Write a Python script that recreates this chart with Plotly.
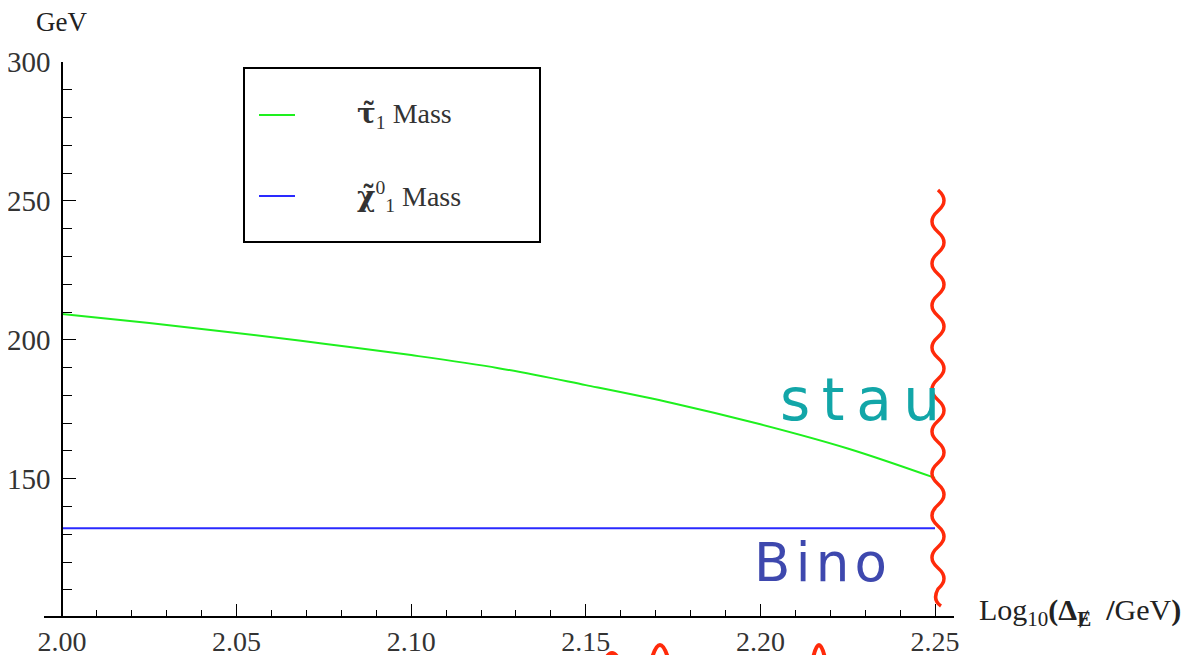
import plotly.graph_objects as go

# ---- data ----
x_stau = [2.000, 2.025, 2.050, 2.075, 2.100, 2.125, 2.150, 2.175, 2.200, 2.225, 2.250]
m_stau = [209.3, 206.1, 202.5, 198.6, 194.5, 189.8, 183.7, 177.2, 169.6, 160.9, 150.3]
x_bino = [2.000, 2.250]
m_bino = [132.2, 132.2]
x_ticks = [2.00, 2.05, 2.10, 2.15, 2.20, 2.25]
x_tick_labels = ["2.00", "2.05", "2.10", "2.15", "2.20", "2.25"]
y_ticks = [150, 200, 250, 300]
y_tick_labels = ["150", "200", "250", "300"]

# page body margin of the browser shifts the figure; compensate
OX, OY = 8, 8
W, H = 1190 - OX, 655 - OY
L, R, T, B = 44, 954, 62, 616  # plot area in screen pixels


def px(x):
    return (x - L) / (R - L)


def py(y):
    return (B - y) / (B - T)


SERIF = "Liberation Serif, Times New Roman, serif"
GREEN = "#1EF01E"
BLUE = "#2A2AFF"

fig = go.Figure()
fig.add_trace(go.Scatter(x=x_stau, y=m_stau, mode="lines", line=dict(color=GREEN, width=2, shape="spline"),
                         name="stau", showlegend=False))
fig.add_trace(go.Scatter(x=x_bino, y=m_bino, mode="lines", line=dict(color=BLUE, width=2),
                         name="bino", showlegend=False))

xr = [2.0 - 18 / 3492, 2.0 + 892 / 3492]
fig.update_xaxes(range=xr, showline=True, linecolor="black", linewidth=1.6, ticks="inside", ticklen=12,
                 tickwidth=1.4, tickcolor="black", tickvals=x_ticks, ticktext=x_tick_labels,
                 showgrid=False, zeroline=False, ticklabelstandoff=0, automargin=False,
                 tickfont=dict(family=SERIF, size=28, color="#333"),
                 minor=dict(dtick=0.01, tick0=2.0, ticks="inside", ticklen=6, tickwidth=1.2, tickcolor="black",
                            showgrid=False))
fig.update_yaxes(range=[100.6, 300.0], showline=True, linecolor="black", linewidth=1.6, ticks="inside",
                 ticklen=13, tickwidth=1.4, tickcolor="black", tickvals=y_ticks, ticktext=y_tick_labels,
                 showgrid=False, zeroline=False, anchor="free", position=px(62), ticklabelstandoff=5,
                 automargin=False,
                 tickfont=dict(family=SERIF, size=29, color="#333"),
                 minor=dict(dtick=10, tick0=100, ticks="inside", ticklen=9, tickwidth=1.2, tickcolor="black",
                            showgrid=False))

shapes = []
annotations = []

# legend box
shapes.append(dict(type="rect", xref="paper", yref="paper", x0=px(244), x1=px(540), y0=py(68), y1=py(242),
                   line=dict(color="black", width=2), fillcolor="white", layer="above"))
shapes.append(dict(type="line", xref="paper", yref="paper", x0=px(259), x1=px(295), y0=py(115), y1=py(115),
                   line=dict(color=GREEN, width=2)))
shapes.append(dict(type="line", xref="paper", yref="paper", x0=px(259), x1=px(295), y0=py(196), y1=py(196),
                   line=dict(color=BLUE, width=2)))
DJ = "font-family:'DejaVu Serif'"
annotations.append(dict(xref="paper", yref="paper", x=px(355), y=py(115), xanchor="left", yanchor="middle",
                        text="<span style=\"%s\"><b>τ̃</b></span><sub>1</sub> Mass" % DJ, showarrow=False,
                        font=dict(family=SERIF, size=28, color="#333")))
annotations.append(dict(xref="paper", yref="paper", x=px(355), y=py(196), xanchor="left", yanchor="middle",
                        text="<span style=\"%s\"><b>χ̃</b></span><sup>0</sup><sub>1</sub> Mass" % DJ,
                        showarrow=False, font=dict(family=SERIF, size=28, color="#333")))

# axis labels
annotations.append(dict(xref="paper", yref="paper", x=px(34), y=py(22), xanchor="left", yanchor="middle",
                        text="GeV", showarrow=False, font=dict(family=SERIF, size=27, color="#222")))
annotations.append(dict(xref="paper", yref="paper", x=px(977), y=py(612), xanchor="left", yanchor="middle",
                        text="Log<sub>10</sub><b>(Δ</b><sub><b>Ɇ</b></sub>  <b>/</b>GeV<b>)</b>", showarrow=False,
                        font=dict(family=SERIF, size=30, color="#222")))

# hand-drawn notes
annotations.append(dict(xref="paper", yref="paper", x=px(778), y=py(400), xanchor="left", yanchor="middle",
                        text="s\u2009t\u2009a\u2009u", showarrow=False,
                        font=dict(family="DejaVu Sans", size=58, color="#12A6A8")))
annotations.append(dict(xref="paper", yref="paper", x=px(752), y=py(562), xanchor="left", yanchor="middle",
                        text="B\u200ai\u200an\u200ao", showarrow=False,
                        font=dict(family="DejaVu Sans", size=53, color="#3E48AE")))

# red wavy line (decoration)
pts = ["M %.4f,%.4f" % (px(938), py(190))]
ycur = 190
side = 1
half = 21
while ycur + half <= 600:
    cx = 938 + side * 12
    pts.append("Q %.4f,%.4f %.4f,%.4f" % (px(cx), py(ycur + half / 2), px(938), py(ycur + half)))
    ycur += half
    side = -side
pts.append("Q %.4f,%.4f %.4f,%.4f" % (px(932), py(600), px(941), py(606)))
shapes.append(dict(type="path", xref="paper", yref="paper", path=" ".join(pts),
                   line=dict(color="#FF2A0A", width=3.5), layer="above"))
# red marks cut at the bottom edge
for (a, b, c) in [(652, 660, 668), (813, 819, 825)]:
    shapes.append(dict(type="path", xref="paper", yref="paper",
                       path="M %.4f,%.4f Q %.4f,%.4f %.4f,%.4f" % (px(a), py(658), px(b), py(632), px(c), py(658)),
                       line=dict(color="#FF2A0A", width=4)))
shapes.append(dict(type="path", xref="paper", yref="paper",
                   path="M %.4f,%.4f Q %.4f,%.4f %.4f,%.4f" % (px(606), py(658), px(612), py(648), px(618), py(658)),
                   line=dict(color="#FF2A0A", width=4)))

fig.update_layout(width=W, height=H,
                  margin=dict(l=L - OX, r=W - (R - OX), t=T - OY, b=H - (B - OY), autoexpand=False),
                  paper_bgcolor="white", plot_bgcolor="white", showlegend=False,
                  shapes=shapes, annotations=annotations)

fig.write_html("out.html")
